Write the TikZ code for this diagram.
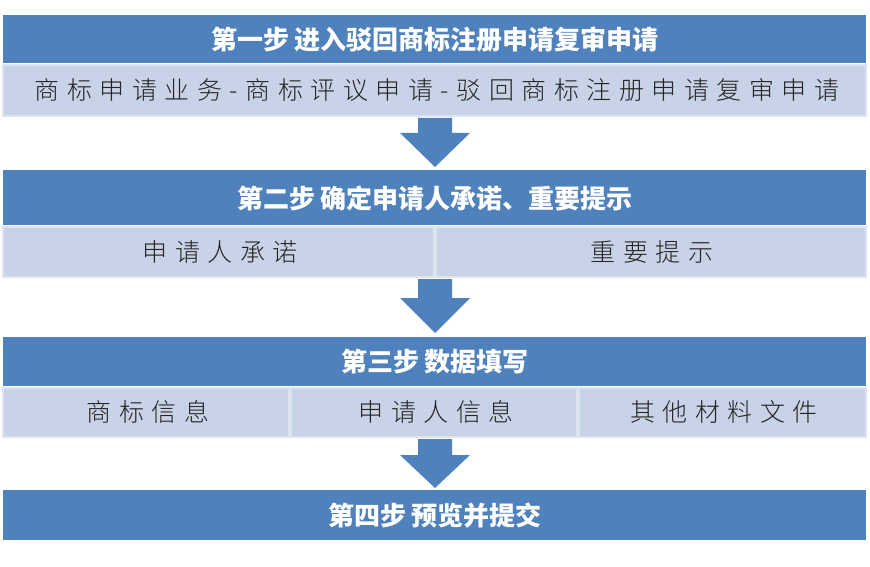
\documentclass[tikz,border=0pt]{standalone}
\usepackage{fontspec}
\newfontfamily\cjk{Noto Sans CJK SC}
\newfontfamily\cjkl{Noto Sans CJK SC Light}[LetterSpace=30]
\begin{document}
\begin{tikzpicture}[x=1pt,y=-1pt,
  hdr/.style={fill=hblue,draw=none},
  sub/.style={fill=lblue,draw=lbord,line width=2pt},
  htxt/.style={text=white,font=\cjk\bfseries\fontsize{26}{30}\selectfont},
  stxt/.style={text=black!85,font=\cjkl\fontsize{25}{30}\selectfont},
  arr/.style={fill=hblue,draw=none}]
\definecolor{hblue}{HTML}{4F81BD}
\definecolor{lblue}{HTML}{C9D3E7}
\definecolor{lbord}{HTML}{DDE3EF}
\useasboundingbox (0,0) rectangle (870,567);
\fill[white] (0,0) rectangle (870,567);
% step 1
\fill[hdr] (3,15) rectangle (866,63);
\node[htxt] (h1) at (435,40) {第一步 进入驳回商标注册申请复审申请};
\draw[sub] (3,65) rectangle (866,116);
\node[stxt] (s1) at (437,90) {商标申请业务-商标评议申请-驳回商标注册申请复审申请};
\fill[arr] (418,118) -- (452,118) -- (452,133) -- (470,133) -- (435,167) -- (400,133) -- (418,133) -- cycle;
% step 2
\fill[hdr] (3,170) rectangle (866,225);
\node[htxt] (h2) at (435,198) {第二步 确定申请人承诺、重要提示};
\draw[sub] (3,227) rectangle (434,277);
\draw[sub] (436,227) rectangle (866,277);
\node[stxt] (s21) at (220,252) {申请人承诺};
\node[stxt] (s22) at (652,252) {重要提示};
\fill[arr] (418,279) -- (452,279) -- (452,298) -- (470,298) -- (435,333) -- (400,298) -- (418,298) -- cycle;
% step 3
\fill[hdr] (3,337) rectangle (866,386);
\node[htxt] (h3) at (435,362) {第三步 数据填写};
\draw[sub] (3,388) rectangle (289,437);
\draw[sub] (291,388) rectangle (577,437);
\draw[sub] (579,388) rectangle (866,437);
\node[stxt] (s31) at (148,412) {商标信息};
\node[stxt] (s32) at (436,412) {申请人信息};
\node[stxt] (s33) at (724,412) {其他材料文件};
\fill[arr] (418,439) -- (452,439) -- (452,455) -- (470,455) -- (435,488) -- (400,455) -- (418,455) -- cycle;
% step 4
\fill[hdr] (3,490) rectangle (866,540);
\node[htxt] (h4) at (435,516) {第四步 预览并提交};
\end{tikzpicture}
\end{document}
